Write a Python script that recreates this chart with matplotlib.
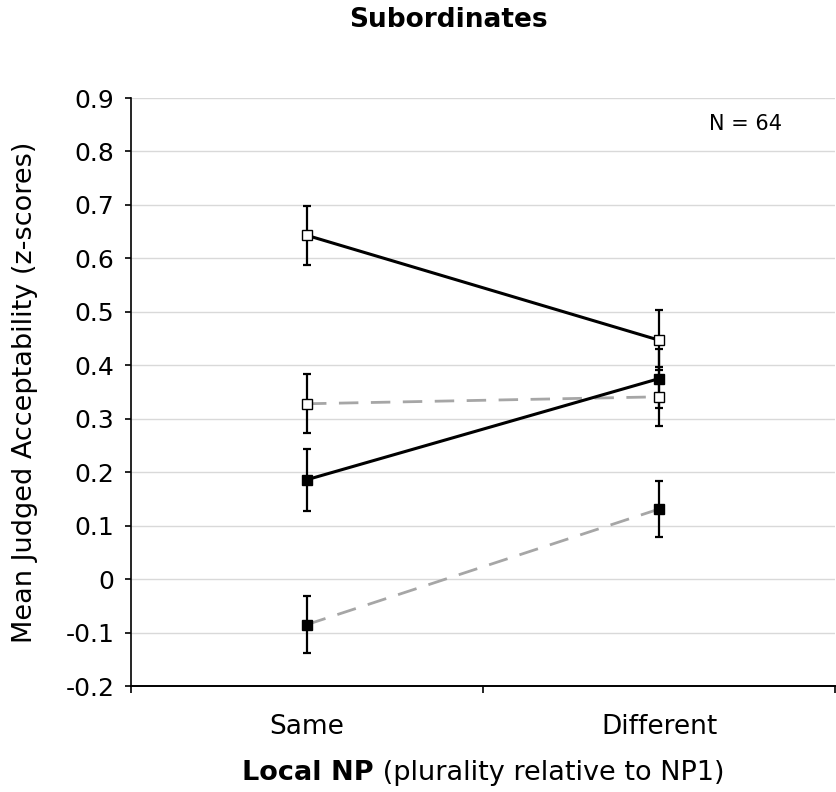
import numpy as np
import matplotlib
matplotlib.use('Agg')
import matplotlib.pyplot as plt

# data
categories = ['Same', 'Different']
open_black = [0.643, 0.447]
open_black_err = [0.055, 0.056]
open_gray = [0.328, 0.341]
open_gray_err = [0.055, 0.055]
filled_black = [0.186, 0.375]
filled_black_err = [0.058, 0.055]
filled_gray = [-0.085, 0.131]
filled_gray_err = [0.053, 0.053]
y_ticks = [-0.2, -0.1, 0, 0.1, 0.2, 0.3, 0.4, 0.5, 0.6, 0.7, 0.8, 0.9]


def draw_series(ax, x, y, err, line_color, dashed, face):
    ax.plot(x, y, color=line_color, lw=2.2 if not dashed else 2.0,
            linestyle=(0, (7, 4.5)) if dashed else '-', zorder=2)
    ax.errorbar(x, y, yerr=err, fmt='none', ecolor='black', elinewidth=1.6,
                capsize=3, capthick=1.6, zorder=3)
    ax.plot(x, y, linestyle='none', marker='s', markersize=7,
            markerfacecolor=face, markeredgecolor='black', markeredgewidth=1.0, zorder=4)


def main():
    fig = plt.figure(figsize=(8.36, 7.92), dpi=100)
    ax = fig.add_axes([131 / 836, 1 - 686 / 792, 704 / 836, 588 / 792])

    x = np.arange(len(categories)) + 0.5
    draw_series(ax, x, open_black, open_black_err, 'black', False, 'white')
    draw_series(ax, x, open_gray, open_gray_err, '#a6a6a6', True, 'white')
    draw_series(ax, x, filled_black, filled_black_err, 'black', False, 'black')
    draw_series(ax, x, filled_gray, filled_gray_err, '#a6a6a6', True, 'black')

    ax.set_xlim(0, len(categories))
    ax.set_ylim(-0.2, 0.9)
    ax.set_yticks(y_ticks)
    ax.set_yticklabels([f'{v:g}' for v in y_ticks])
    ax.yaxis.grid(True, color='#d9d9d9', lw=1.0)
    ax.set_axisbelow(True)

    ax.set_xticks(np.arange(len(categories) + 1))
    ax.set_xticklabels([])
    ax.set_xticks(x, minor=True)
    ax.set_xticklabels(categories, minor=True, fontsize=19)
    ax.tick_params(axis='x', which='minor', length=0, pad=20)
    ax.tick_params(axis='x', which='major', length=5, width=1.2, direction='out')
    ax.tick_params(axis='y', length=4, width=1.2, labelsize=18, pad=8)

    for s in ['top', 'right']:
        ax.spines[s].set_visible(False)
    ax.spines['left'].set_linewidth(1.2)
    ax.spines['bottom'].set_linewidth(1.4)

    ax.set_ylabel('Mean Judged Acceptability (z-scores)', fontsize=19.5)
    ax.yaxis.set_label_coords(-0.132, 0.5)
    fig.text(448 / 836, 1 - 20 / 792, 'Subordinates', fontsize=19, fontweight='bold',
             ha='center', va='center')
    ax.text(0.873, 0.955, 'N = 64', transform=ax.transAxes, fontsize=15, ha='center', va='center')

    # x axis label: bold part + normal part, centred together
    fig.canvas.draw()
    r = fig.canvas.get_renderer()
    t1 = fig.text(0, 0, 'Local NP', fontsize=19.5, fontweight='bold')
    t2 = fig.text(0, 0, ' (plurality relative to NP1)', fontsize=19.5)
    w1 = t1.get_window_extent(r).width
    w2 = t2.get_window_extent(r).width
    left = 483 - (w1 + w2) / 2
    yb = 1 - 780 / 792
    t1.set_position((left / 836, yb))
    t2.set_position(((left + w1) / 836, yb))

    fig.savefig('out.png', dpi=100)


if __name__ == '__main__':
    main()
